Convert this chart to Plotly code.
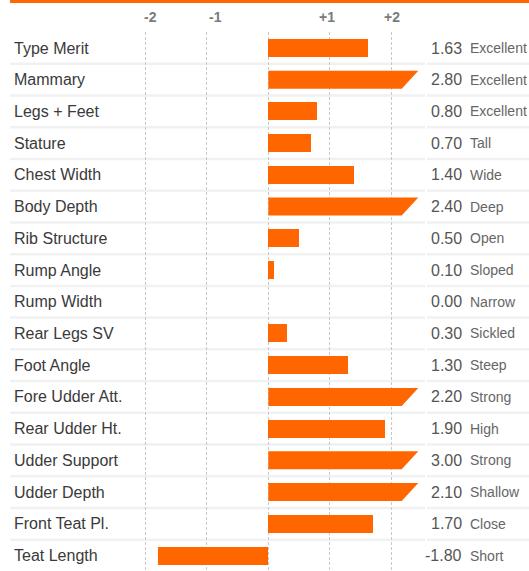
import plotly.graph_objects as go

traits = ["Type Merit", "Mammary", "Legs + Feet", "Stature", "Chest Width", "Body Depth",
          "Rib Structure", "Rump Angle", "Rump Width", "Rear Legs SV", "Foot Angle",
          "Fore Udder Att.", "Rear Udder Ht.", "Udder Support", "Udder Depth",
          "Front Teat Pl.", "Teat Length"]
values = [1.63, 2.80, 0.80, 0.70, 1.40, 2.40, 0.50, 0.10, 0.00, 0.30, 1.30,
          2.20, 1.90, 3.00, 2.10, 1.70, -1.80]
descriptors = ["Excellent", "Excellent", "Excellent", "Tall", "Wide", "Deep", "Open",
               "Sloped", "Narrow", "Sickled", "Steep", "Strong", "High", "Strong",
               "Shallow", "Close", "Short"]
tick_vals = [-2, -1, 0, 1, 2]
tick_text = ["-2", "-1", "", "+1", "+2"]

CAP = 2.0            # values above this are drawn as capped arrow bars
ARROW_BOTTOM = 2.173
ARROW_TOP = 2.443
ORANGE = "#FF6600"
FONT = "Liberation Sans, Arial, sans-serif"
BAR_H = 0.567
TICK_SHIFT = [5, 9, 0, -3, 1]

W, H = 529, 571
TOP = 32
ZERO_PX, UNIT_PX = 268.3, 61.4
xmin = -ZERO_PX / UNIT_PX
xmax = (W - ZERO_PX) / UNIT_PX

n = len(traits)
ys = list(range(n))

fig = go.Figure()

normal_y = [i for i, v in zip(ys, values) if v <= CAP]
normal_x = [v for v in values if v <= CAP]
fig.add_trace(go.Bar(x=normal_x, y=normal_y, orientation="h", width=BAR_H,
                     marker=dict(color=ORANGE, line=dict(width=0)),
                     hoverinfo="skip", showlegend=False))

for i, v in zip(ys, values):
    if v > CAP:
        t, b = i - BAR_H / 2, i + BAR_H / 2
        fig.add_trace(go.Scatter(x=[0, ARROW_TOP, ARROW_BOTTOM, 0, 0],
                                 y=[t, t, b, b, t], mode="lines", fill="toself",
                                 fillcolor=ORANGE, line=dict(width=0, color=ORANGE),
                                 hoverinfo="skip", showlegend=False))

shapes = []
# top orange rule
shapes.append(dict(type="rect", xref="paper", yref="paper",
                   x0=10 / W, x1=1.0, y0=1 + (TOP - 3) / (H - TOP), y1=1 + TOP / (H - TOP),
                   fillcolor=ORANGE, line=dict(width=0), layer="above"))
# row separators
for i in range(n - 1):
    for x0, x1 in [(10 / W, 425 / W), (427 / W, 1.0)]:
        shapes.append(dict(type="line", xref="paper", yref="y", x0=x0, x1=x1,
                           y0=i + 0.5, y1=i + 0.5,
                           line=dict(color="#f1f1f1", width=2.5), layer="below"))

annotations = []
# tick labels along the top
for tv, tt, sh in zip(tick_vals, tick_text, TICK_SHIFT):
    if tt:
        annotations.append(dict(x=tv, xref="x", y=1 + 14.5 / (H - TOP), yref="paper",
                                text=tt, xanchor="center", yanchor="middle",
                                xshift=sh, showarrow=False,
                                font=dict(family=FONT, size=14, color="#7a7a7a",
                                          weight="bold")))
for i, (t, v, d) in enumerate(zip(traits, values, descriptors)):
    annotations.append(dict(x=12 / W, xref="paper", y=i, yref="y", text=t,
                            xanchor="left", yanchor="middle", showarrow=False,
                            font=dict(family=FONT, size=16, color="#3a3a3a")))
    annotations.append(dict(x=464 / W, xref="paper", y=i, yref="y", text=f"{v:.2f}",
                            xanchor="right", yanchor="middle", showarrow=False,
                            font=dict(family=FONT, size=16, color="#555555")))
    annotations.append(dict(x=468 / W, xref="paper", y=i, yref="y", text=d,
                            xanchor="left", yanchor="middle", showarrow=False,
                            font=dict(family=FONT, size=14, color="#666666")))

top_val = -16 / 31.72
bottom_val = top_val + (H - TOP) / 31.72

fig.update_layout(
    width=W, height=H,
    margin=dict(l=0, r=0, t=TOP, b=0, pad=0),
    paper_bgcolor="white", plot_bgcolor="white",
    shapes=shapes, annotations=annotations,
    xaxis=dict(range=[xmin, xmax], side="top", tickvals=tick_vals,
               showticklabels=False,
               showgrid=True, gridcolor="#c8c8c8", griddash="3px,2px", gridwidth=1,
               zeroline=False, showline=False, ticks="", fixedrange=True),
    yaxis=dict(range=[bottom_val, top_val], showgrid=False, zeroline=False,
               showticklabels=False, showline=False, fixedrange=True),
    bargap=0,
)

fig.write_html("out.html", config={"displayModeBar": False},
               post_script="document.body.style.margin='0';document.body.style.padding='0';")
